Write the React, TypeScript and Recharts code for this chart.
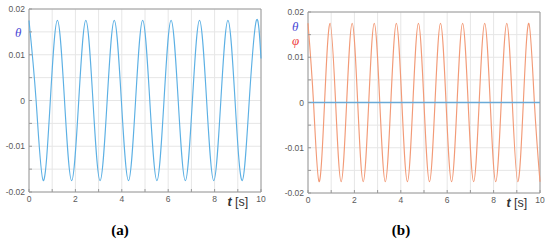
import { LineChart, Line, XAxis, YAxis, CartesianGrid, ReferenceArea } from "recharts";

// panel (a): theta, read at peaks / zero crossings / troughs
const timeA = [0, 0.306, 0.613, 0.919, 1.225, 1.531, 1.838, 2.144, 2.45, 2.756, 3.063, 3.369, 3.675, 3.981, 4.288, 4.594, 4.9, 5.206, 5.513, 5.819, 6.125, 6.431, 6.738, 7.044, 7.35, 7.656, 7.963, 8.269, 8.575, 8.881, 9.188, 9.494, 9.8, 10];
const thetaA = [0.0175, 0, -0.0175, 0, 0.0175, 0, -0.0175, 0, 0.0175, 0, -0.0175, 0, 0.0175, 0, -0.0175, 0, 0.0175, 0, -0.0175, 0, 0.0175, 0, -0.0175, 0, 0.0175, 0, -0.0175, 0, 0.0175, 0, -0.0175, 0, 0.0175, 0.0092];

// panel (b): phi oscillates, theta stays at zero
const timeB = [0, 0.238, 0.476, 0.714, 0.952, 1.19, 1.428, 1.666, 1.904, 2.142, 2.38, 2.618, 2.856, 3.094, 3.332, 3.57, 3.808, 4.046, 4.284, 4.522, 4.76, 4.998, 5.236, 5.474, 5.712, 5.95, 6.188, 6.426, 6.664, 6.902, 7.14, 7.378, 7.616, 7.854, 8.092, 8.33, 8.568, 8.806, 9.044, 9.282, 9.52, 9.758, 10];
const phiB = [0.0175, 0, -0.0175, 0, 0.0175, 0, -0.0175, 0, 0.0175, 0, -0.0175, 0, 0.0175, 0, -0.0175, 0, 0.0175, 0, -0.0175, 0, 0.0175, 0, -0.0175, 0, 0.0175, 0, -0.0175, 0, 0.0175, 0, -0.0175, 0, 0.0175, 0, -0.0175, 0, 0.0175, 0, -0.0175, 0, 0.0175, 0, -0.0175];
const timeThetaB = [0, 10];
const thetaB = [0, 0];

const xTicks = [0, 1, 2, 3, 4, 5, 6, 7, 8, 9, 10];
const yTicks = [-0.02, -0.015, -0.01, -0.005, 0, 0.005, 0.01, 0.015, 0.02];

const dataA = timeA.map((t, i) => ({ t, theta: thetaA[i] }));
const dataB = timeB.map((t, i) => ({ t, phi: phiB[i] }));
const dataThetaB = timeThetaB.map((t, i) => ({ t, theta: thetaB[i] }));

const tickFont = "Liberation Sans, Arial, sans-serif";
const serifFont = "Liberation Serif, DejaVu Serif, serif";

function XTick({ x, y, payload }: any) {
  const v = payload.value;
  return (
    <g>
      <line x1={x} x2={x} y1={y} y2={y - 3} stroke="#999" />
      {v === 9 ? (
        <text x={x} y={y + 14} textAnchor="middle" fontSize={12.5} fill="#333" fontFamily={tickFont}>
          <tspan fontStyle="italic" fontWeight="bold">t</tspan> [s]
        </text>
      ) : v % 2 === 0 ? (
        <text x={x} y={y + 10} textAnchor="middle" fontSize={8.5} fill="#5a5a5a" fontFamily={tickFont}>
          {v}
        </text>
      ) : null}
    </g>
  );
}

function YTick({ x, y, payload }: any) {
  const v = payload.value;
  const show = Math.abs(v * 100 - Math.round(v * 100)) < 1e-6;
  const label = Math.abs(v) < 1e-9 ? "0" : v.toFixed(2);
  return (
    <g>
      <line x1={x} x2={x + 3} y1={y} y2={y} stroke="#999" />
      {show && (
        <text x={x - 4} y={y + 3} textAnchor="end" fontSize={8.5} fill="#5a5a5a" fontFamily={tickFont}>
          {label}
        </text>
      )}
    </g>
  );
}

function Panel({ children, data, height, margin, yWidth }: any) {
  return (
    <LineChart width={275} height={height} data={data} margin={margin}>
      <CartesianGrid stroke="#e6e6e6" />
      <XAxis
        dataKey="t"
        type="number"
        domain={[0, 10]}
        ticks={xTicks}
        interval={0}
        axisLine={false}
        tickLine={false}
        tickSize={0}
        tickMargin={0}
        height={20}
        tick={<XTick />}
        allowDuplicatedCategory={false}
      />
      <YAxis
        type="number"
        domain={[-0.02, 0.02]}
        ticks={yTicks}
        interval={0}
        axisLine={false}
        tickLine={false}
        tickSize={0}
        tickMargin={0}
        width={yWidth}
        tick={<YTick />}
      />
      <ReferenceArea x1={0} x2={10} y1={-0.02} y2={0.02} fill="none" stroke="#9a9a9a" strokeWidth={1} />
      {children}
    </LineChart>
  );
}

const overlay = (left: number, top: number, color: string, text: string) => (
  <div
    style={{
      position: "absolute",
      left,
      top,
      color,
      fontFamily: serifFont,
      fontStyle: "italic",
      fontSize: 13,
      lineHeight: "13px",
    }}
  >
    {text}
  </div>
);

const captionStyle = (left: number) => ({
  position: "absolute" as const,
  left,
  top: 230,
  transform: "translate(-50%, -50%)",
  fontFamily: serifFont,
  fontWeight: "bold" as const,
  fontSize: 15,
});

export default function App() {
  return (
    <div style={{ position: "absolute", left: 0, top: 0, width: 550, height: 240, background: "#fff" }}>
      <div style={{ position: "absolute", left: 0, top: 0 }}>
        <Panel data={dataA} height={212} margin={{ top: 9, right: 14, bottom: 0, left: 0 }} yWidth={29}>
          <Line type="natural" dataKey="theta" stroke="#5cb0e4" strokeWidth={1.15} dot={false} isAnimationActive={false} />
        </Panel>
      </div>
      <div style={{ position: "absolute", left: 275, top: 0 }}>
        <Panel data={dataB} height={213} margin={{ top: 12, right: 10, bottom: 0, left: 0 }} yWidth={33}>
          <Line type="natural" dataKey="phi" stroke="#f29a77" strokeWidth={1.15} dot={false} isAnimationActive={false} />
          <Line data={dataThetaB} type="linear" dataKey="theta" stroke="#6aaad8" strokeWidth={1.6} dot={false} isAnimationActive={false} />
        </Panel>
      </div>
      {overlay(15, 26, "#4a4ad6", "θ")}
      {overlay(292, 20, "#4a4ad6", "θ")}
      {overlay(292, 34, "#ee4040", "φ")}
      <div style={captionStyle(120)}>(a)</div>
      <div style={captionStyle(401)}>(b)</div>
    </div>
  );
}
